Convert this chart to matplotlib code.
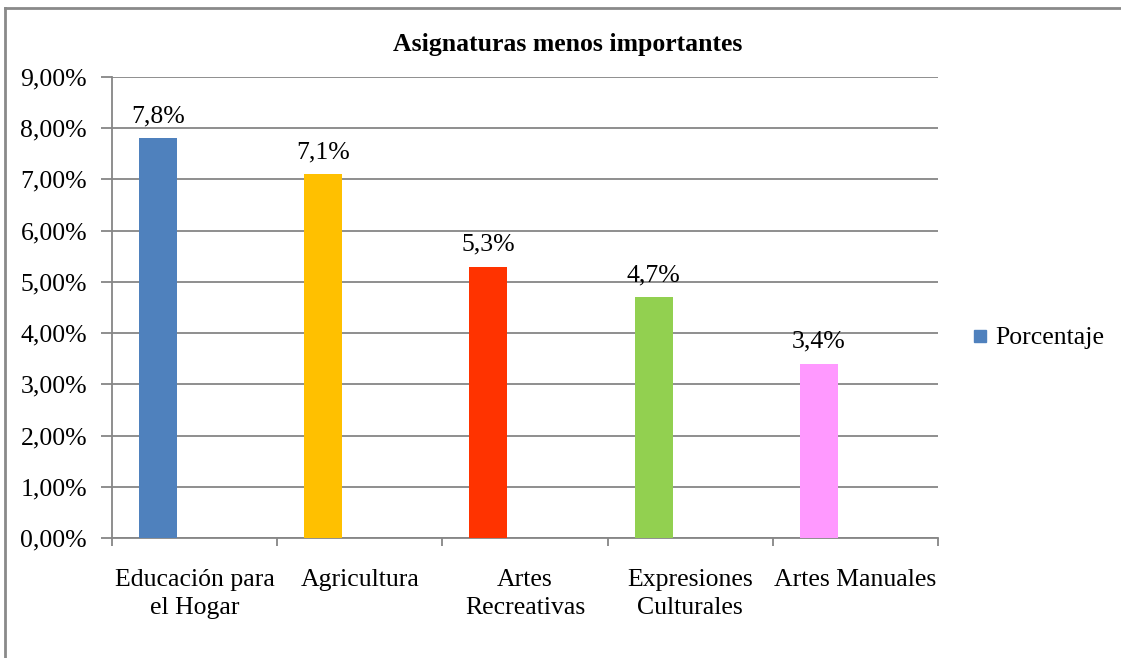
import numpy as np
import matplotlib.pyplot as plt
from matplotlib.lines import Line2D

plt.rcParams['font.family'] = ['Liberation Serif', 'DejaVu Serif']

# Data
categories = ['Educación para\nel Hogar', 'Agricultura', 'Artes\nRecreativas',
              'Expresiones\nCulturales', 'Artes Manuales']
values = [7.8, 7.1, 5.3, 4.7, 3.4]
value_labels = ['7,8%', '7,1%', '5,3%', '4,7%', '3,4%']
colors = ['#4F81BD', '#FFC000', '#FF3300', '#92D050', '#FF99FF']
yticks = [0, 1, 2, 3, 4, 5, 6, 7, 8, 9]
ytick_labels = ['0,00%', '1,00%', '2,00%', '3,00%', '4,00%',
                '5,00%', '6,00%', '7,00%', '8,00%', '9,00%']

grid_col = '#868686'
fs = 18.5

fig = plt.figure(figsize=(11.21, 6.58), dpi=100)
ax = fig.add_axes([112/1121, 1-538/658, 826/1121, 461/658])

x = np.arange(len(categories))
# bars sit on the left part of each category slot
bar_x = x - 0.222
ax.bar(bar_x, values, width=0.23, color=colors, zorder=3)

for bx, v, lab in zip(bar_x, values, value_labels):
    ax.annotate(lab, (bx, v), xytext=(0, 8), textcoords='offset points',
                ha='center', va='bottom', fontsize=fs)

ax.set_xlim(-0.5, len(categories) - 0.5)
ax.set_ylim(0, 9)
ax.set_yticks(yticks)
ax.set_yticklabels(ytick_labels, fontsize=fs)
ax.yaxis.grid(True, color=grid_col, linewidth=1.3, zorder=0)

# category separators as x ticks
ax.set_xticks(np.arange(len(categories) + 1) - 0.5)
ax.set_xticklabels([])
ax.set_xticks(x, minor=True)
ax.set_xticklabels(categories, minor=True, fontsize=fs, linespacing=1.4)
ax.tick_params(axis='x', which='major', length=6, color=grid_col, width=1.3)
ax.tick_params(axis='x', which='minor', length=0, pad=22)
ax.tick_params(axis='y', length=8, color=grid_col, width=1.3, pad=10)

for s in ['top', 'right']:
    ax.spines[s].set_visible(False)
for s in ['left', 'bottom']:
    ax.spines[s].set_color(grid_col)
    ax.spines[s].set_linewidth(1.3)

fig.text(568/1121, 1-45/658, 'Asignaturas menos importantes', ha='center', va='center',
         fontsize=fs, fontweight='bold')

handle = Line2D([], [], marker='s', linestyle='none', markersize=9,
                color=colors[0])
fig.legend([handle], ['Porcentaje'], loc='center left',
           bbox_to_anchor=(971/1121, 1-338/658), frameon=False, fontsize=fs,
           handlelength=0.7, handletextpad=0.25, borderaxespad=0, borderpad=0)

# outer chart frame (top and left edges visible)
fig.add_artist(Line2D([5/1121, 5/1121], [0, 1-8/658], transform=fig.transFigure,
                      color='#8a8a8a', linewidth=2))
fig.add_artist(Line2D([5/1121, 1], [1-8/658, 1-8/658], transform=fig.transFigure,
                      color='#8a8a8a', linewidth=2))

fig.savefig('out.png', dpi=100)
